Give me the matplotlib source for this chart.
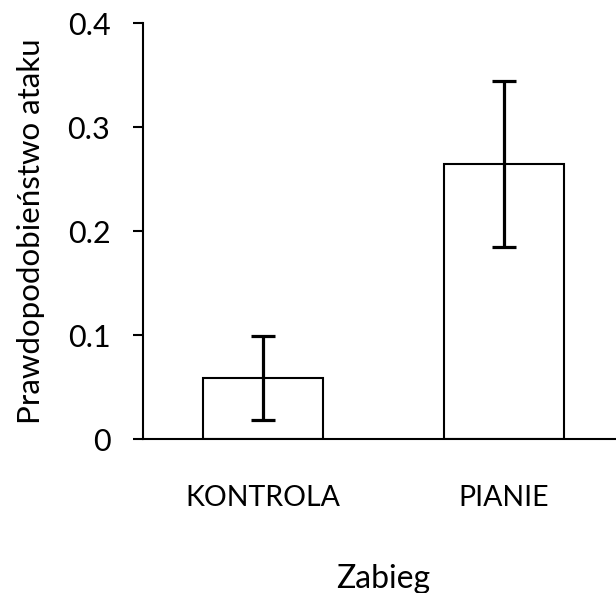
import matplotlib.pyplot as plt

# dane: prawdopodobieństwo ataku w dwóch zabiegach
zabiegi = ['KONTROLA', 'PIANIE']
srednie = [0.059, 0.265]
bledy = [0.040, 0.080]

plt.rcParams['font.family'] = ['Lato', 'DejaVu Sans']

fig = plt.figure(figsize=(6.16, 5.93), dpi=100)
ax = fig.add_axes([143 / 616, 153.7 / 593, 481 / 616, 416 / 593])

x = range(len(zabiegi))
ax.bar(x, srednie, width=0.5, color='white', edgecolor='black', linewidth=1.5)
ax.errorbar(x, srednie, yerr=bledy, fmt='none', ecolor='black',
            elinewidth=2.3, capsize=8.5, capthick=2.3)

ax.set_xlim(-0.5, 1.5)
ax.set_ylim(0, 0.4)
ax.set_yticks([0, 0.1, 0.2, 0.3, 0.4])
ax.set_yticklabels(['0', '0.1', '0.2', '0.3', '0.4'])
ax.set_xticks(list(x))
ax.set_xticklabels(zabiegi)

for s in ['top', 'right']:
    ax.spines[s].set_visible(False)
for s in ['left', 'bottom']:
    ax.spines[s].set_linewidth(1.5)

ax.tick_params(axis='y', length=7.5, width=1.5, labelsize=22, pad=16)
ax.tick_params(axis='x', length=0, labelsize=20.5, pad=33)

ax.set_ylabel('Prawdopodobieństwo ataku', fontsize=22.5, labelpad=16)
ax.set_xlabel('Zabieg', fontsize=23, labelpad=38)

fig.savefig('out.png', dpi=100)
